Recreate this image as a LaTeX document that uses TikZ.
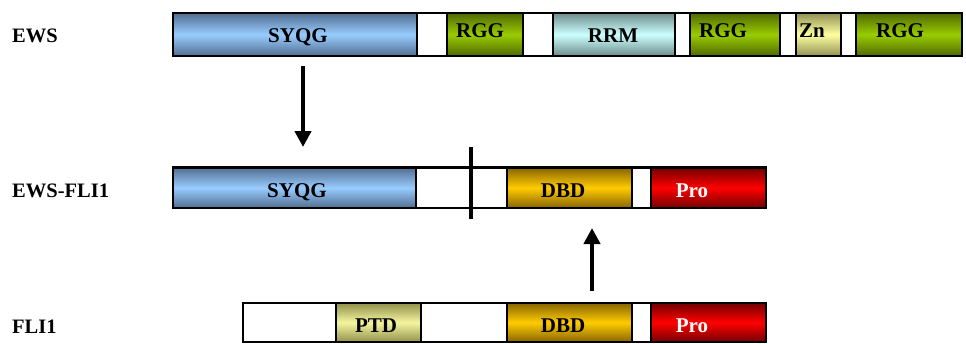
\documentclass[tikz,border=0pt]{standalone}
\usepackage{fontspec}
\setmainfont{Liberation Serif}
\usetikzlibrary{arrows.meta}
\definecolor{blueM}{RGB}{153,204,255}\definecolor{blueE}{RGB}{80,110,145}
\definecolor{greenM}{RGB}{153,204,0}\definecolor{greenE}{RGB}{80,105,0}
\definecolor{cyanM}{RGB}{204,255,255}\definecolor{cyanE}{RGB}{110,140,140}
\definecolor{znM}{RGB}{255,255,160}\definecolor{znE}{RGB}{145,145,85}
\definecolor{ptdM}{RGB}{245,245,160}\definecolor{ptdE}{RGB}{145,145,75}
\definecolor{dbdM}{RGB}{255,204,0}\definecolor{dbdE}{RGB}{135,100,0}
\definecolor{proM}{RGB}{255,0,0}\definecolor{proE}{RGB}{115,0,0}
\newcommand{\segbox}[6]{% name, x1, x2, y1, y2, style
  \path[#6] (#2,#4) rectangle (#3,#5);
  \node[inner sep=0pt, minimum width={#3-#2}, minimum height={#5-#4}] (#1) at ({(#2+#3)/2},{(#4+#5)/2}) {};}
\begin{document}
\begin{tikzpicture}[x=1pt,y=-1pt,
  seg/.style={draw=black, line width=2.6pt, inner sep=0pt, outer sep=0pt},
  shd/.style 2 args={top color=#2, bottom color=#2, middle color=#1},
  wbox/.style={seg, fill=white},
  lbl/.style={font=\bfseries\fontsize{21}{23}\selectfont, anchor=base, inner sep=0pt},
  rowlbl/.style={font=\bfseries\fontsize{20.5}{23}\selectfont, anchor=base west, inner sep=0pt},
  arr/.style={line width=4.5pt, -{Triangle[width=16pt,length=16pt]}}]
\useasboundingbox (0,0) rectangle (966,343);
% Row 1: EWS
\path[wbox] (417,13) rectangle (447,56);
\path[wbox] (523,13) rectangle (553,56);
\path[wbox] (675,13) rectangle (690,56);
\path[wbox] (780,13) rectangle (796,56);
\path[wbox] (841,13) rectangle (856,56);
\segbox{e1}{173}{417}{13}{56}{seg, shd={blueM}{blueE}}
\segbox{e2}{447}{523}{13}{56}{seg, shd={greenM}{greenE}}
\segbox{e3}{553}{675}{13}{56}{seg, shd={cyanM}{cyanE}}
\segbox{e4}{690}{780}{13}{56}{seg, shd={greenM}{greenE}}
\segbox{e5}{796}{841}{13}{56}{seg, shd={znM}{znE}}
\segbox{e6}{856}{962}{13}{56}{seg, shd={greenM}{greenE}}
\node[lbl] at (298,42) {SYQG};
\node[lbl] at (480,37) {RGG};
\node[lbl] at (613,42) {RRM};
\node[lbl] at (723,37) {RGG};
\node[lbl] at (812,37) {Zn};
\node[lbl] at (900,37) {RGG};
\node[rowlbl] (lews) at (12,42) {EWS};
% Row 2: EWS-FLI1
\path[wbox] (416,167.5) rectangle (507,208);
\path[wbox] (632,167.5) rectangle (651,208);
\segbox{f1}{173}{416}{167.5}{208}{seg, shd={blueM}{blueE}}
\segbox{f2}{507}{632}{167.5}{208}{seg, shd={dbdM}{dbdE}}
\segbox{f3}{651}{766}{167.5}{208}{seg, shd={proM}{proE}}
\node[lbl] at (297,197) {SYQG};
\node[lbl] at (563,197) {DBD};
\node[lbl, text=white] at (692,197) {Pro};
\node[rowlbl] (lfus) at (12,197) {EWS-FLI1};
\coordinate (brkT) at (471,147);
\coordinate (brkB) at (471,219);
\draw[line width=3.5pt] (brkT) -- (brkB);
% Row 3: FLI1
\path[wbox] (243,303) rectangle (336,342);
\path[wbox] (421,303) rectangle (507,342);
\path[wbox] (632,303) rectangle (651,342);
\segbox{g1}{336}{421}{303}{342}{seg, shd={ptdM}{ptdE}}
\segbox{g2}{507}{632}{303}{342}{seg, shd={dbdM}{dbdE}}
\segbox{g3}{651}{766}{303}{342}{seg, shd={proM}{proE}}
\node[lbl] at (376,332) {PTD};
\node[lbl] at (563,332) {DBD};
\node[lbl, text=white] at (692,332) {Pro};
\node[rowlbl] (lfli) at (12,333) {FLI1};
% Arrows
\coordinate (a1s) at (303,66);
\coordinate (a1e) at (303,147);
\coordinate (a2s) at (592,291);
\coordinate (a2e) at (592,228);
\draw[arr] (a1s) -- (a1e);
\draw[arr] (a2s) -- (a2e);
\end{tikzpicture}
\end{document}
